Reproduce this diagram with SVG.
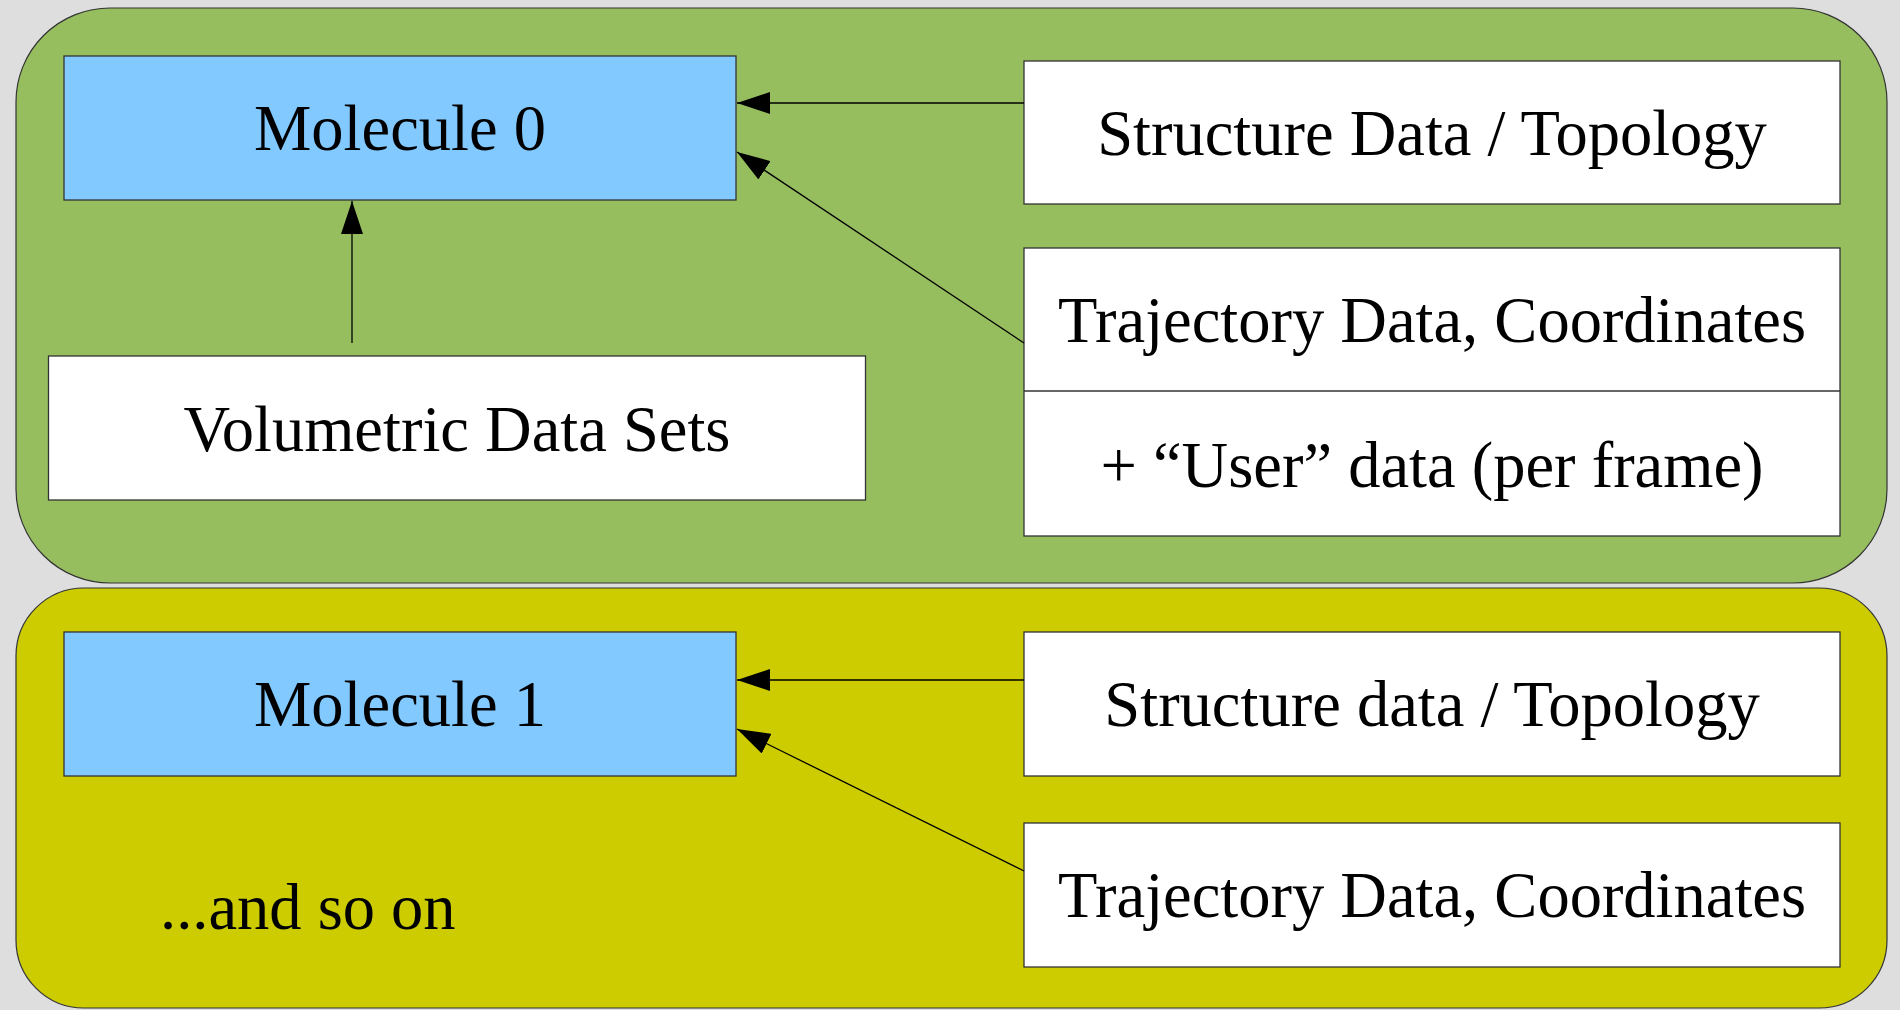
<svg xmlns="http://www.w3.org/2000/svg" width="1900" height="1010" viewBox="0 0 1900 1010">
  <defs>
    <marker id="arrow" markerWidth="33" markerHeight="22" refX="33" refY="11" orient="auto" markerUnits="userSpaceOnUse">
      <path d="M0,0 L33,11 L0,22 Z" fill="#000"/>
    </marker>
    <style>
      .panel { stroke: #333; stroke-width: 1.2; }
      .box { fill: #ffffff; stroke: #333; stroke-width: 1.3; }
      .mol { fill: #82c9ff; stroke: #333; stroke-width: 1.3; }
      .lbl { font-family: "Liberation Serif", "Times New Roman", serif; font-size: 64.5px; fill: #000; text-anchor: middle; }
      .conn { stroke: #000; stroke-width: 1.3; fill: none; marker-end: url(#arrow); }
    </style>
  </defs>

  <rect x="0" y="0" width="1900" height="1010" fill="#dedede"/>

  <!-- container for the first molecule -->
  <rect id="panel0" class="panel" x="16" y="8" width="1871" height="575" rx="94" ry="94" fill="#96be5f"/>
  <!-- container for the second molecule -->
  <rect id="panel1" class="panel" x="16" y="588" width="1871" height="420" rx="68" ry="68" fill="#cccc00"/>

  <g id="molecule0">
    <rect class="mol" x="64" y="56" width="672" height="144"/>
    <text class="lbl" x="400" y="150">Molecule 0</text>
  </g>
  <g id="structure0">
    <rect class="box" x="1024" y="61" width="816" height="143"/>
    <text class="lbl" x="1432" y="155">Structure Data / Topology</text>
  </g>
  <g id="trajectory0">
    <rect class="box" x="1024" y="248" width="816" height="288"/>
    <line x1="1024" y1="391" x2="1840" y2="391" stroke="#333" stroke-width="1.3"/>
    <text class="lbl" x="1432" y="342">Trajectory Data, Coordinates</text>
    <text class="lbl" x="1432" y="487">+ “User” data (per frame)</text>
  </g>
  <g id="volumetric">
    <rect class="box" x="48.5" y="356" width="817" height="144"/>
    <text class="lbl" x="457" y="451">Volumetric Data Sets</text>
  </g>

  <g id="molecule1">
    <rect class="mol" x="64" y="632" width="672" height="144"/>
    <text class="lbl" x="400" y="726">Molecule 1</text>
  </g>
  <g id="structure1">
    <rect class="box" x="1024" y="632" width="816" height="144"/>
    <text class="lbl" x="1432" y="726">Structure data / Topology</text>
  </g>
  <g id="trajectory1">
    <rect class="box" x="1024" y="823" width="816" height="144"/>
    <text class="lbl" x="1432" y="917">Trajectory Data, Coordinates</text>
  </g>
  <g id="andsoon">
    <text class="lbl" x="160" y="929" style="text-anchor:start">...and so on</text>
  </g>

  <g id="connectors">
    <line class="conn" x1="1024" y1="103" x2="737" y2="103"/>
    <line class="conn" x1="1024" y1="343" x2="737" y2="152"/>
    <line class="conn" x1="352" y1="343" x2="352" y2="201"/>
    <line class="conn" x1="1024" y1="680" x2="737" y2="680"/>
    <line class="conn" x1="1024" y1="871" x2="737" y2="729"/>
  </g>
</svg>
